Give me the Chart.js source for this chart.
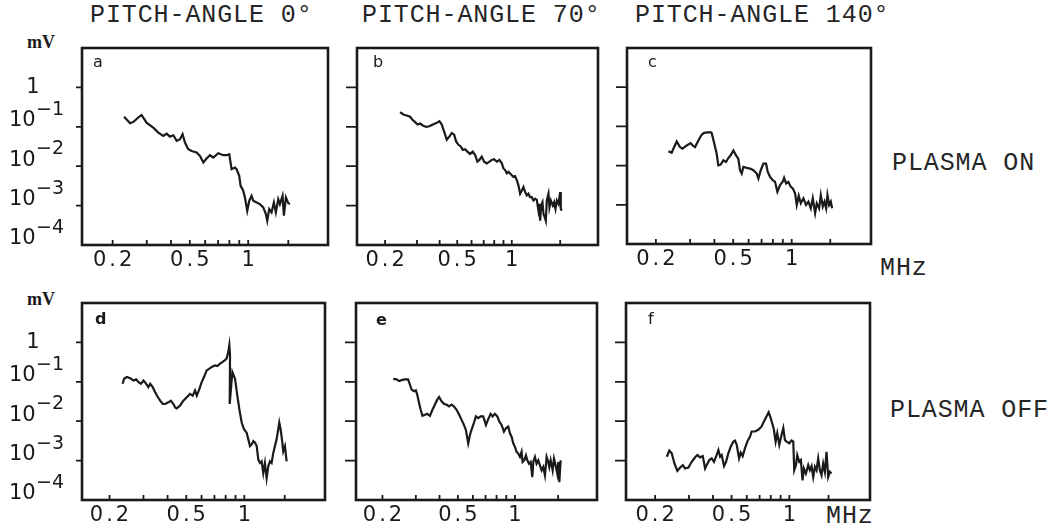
<!DOCTYPE html>
<html>
<head>
<meta charset="utf-8">
<script src="https://cdn.jsdelivr.net/npm/chart.js@4.4.1/dist/chart.umd.min.js"></script>
<style>
  html, body { margin: 0; padding: 0; background: #fff; }
  #page { position: relative; width: 1050px; height: 531px; overflow: hidden; background: #fff; }
  #page canvas { position: absolute; }
  .lbl { position: absolute; white-space: nowrap; line-height: 1; color: #1a1a1a; }
  .mono { font-family: 'Liberation Mono', 'Courier New', monospace; font-size: 25px; letter-spacing: 0.9px; color: #262626; }
  .unit { font-family: 'Liberation Serif', serif; font-weight: bold; font-size: 18px; }
  .tag { font-family: 'DejaVu Sans', sans-serif; font-size: 16px; }
</style>
</head>
<body>
<div id="page">
  <div class="lbl mono" style="left:90px;top:3px">PITCH-ANGLE 0°</div>
  <div class="lbl mono" style="left:362px;top:3px">PITCH-ANGLE 70°</div>
  <div class="lbl mono" style="left:635px;top:3px">PITCH-ANGLE 140°</div>
  <div class="lbl mono" style="left:892px;top:151px">PLASMA ON</div>
  <div class="lbl mono" style="left:890px;top:398px">PLASMA OFF</div>
  <div class="lbl mono" style="left:880px;top:256px">MHz</div>
  <div class="lbl mono" style="left:826px;top:504px">MHz</div>
  <div class="lbl unit" style="left:27px;top:33px">mV</div>
  <div class="lbl unit" style="left:27px;top:290px">mV</div>
</div>
<script>
// Tick sets (frequency in MHz, amplitude in mV)
const xTickValues = [0.2, 0.3, 0.4, 0.5, 0.6, 0.7, 0.8, 0.9, 1]
const xLabelValues = [0.2, 0.5, 1]
const xLabelTexts = ['0.2', '0.5', '1']
const yTickValues = [1, 0.1, 0.01, 0.001]
const yLabelValues = [1, 0.1, 0.01, 0.001, 0.0001]
const yLabelExps = [null, '−1', '−2', '−3', '−4']
const panelTags = ['a', 'b', 'c', 'd', 'e', 'f']

// a: plasma on, pitch-angle 0
const freqA = [0.229, 0.246, 0.256, 0.277, 0.282, 0.299, 0.324, 0.344, 0.365, 0.380, 0.395, 0.411, 0.428, 0.445, 0.459, 0.472, 0.491, 0.511, 0.542, 0.564, 0.587, 0.610, 0.635, 0.661, 0.701, 0.744, 0.774, 0.799, 0.821, 0.854, 0.871, 0.899, 0.914, 0.943, 0.962, 0.989, 1.013, 1.041, 1.062, 1.105, 1.149, 1.196, 1.234, 1.254, 1.284, 1.320, 1.357, 1.389, 1.429, 1.457, 1.504, 1.528, 1.565, 1.609, 1.641]
const valA = [0.181, 0.123, 0.133, 0.188, 0.200, 0.127, 0.0953, 0.0711, 0.0586, 0.0671, 0.0564, 0.0610, 0.0438, 0.0483, 0.0646, 0.0397, 0.0269, 0.0244, 0.0222, 0.0183, 0.0124, 0.0156, 0.0190, 0.0166, 0.0213, 0.0190, 0.0190, 0.0201, 0.00839, 0.00925, 0.00839, 0.00569, 0.00318, 0.00238, 0.00161, 0.00074, 0.00133, 0.00177, 0.00133, 0.00120, 0.00109, 0.000899, 0.000610, 0.000413, 0.000815, 0.000671, 0.00120, 0.000671, 0.00146, 0.00109, 0.00177, 0.000553, 0.00161, 0.00116, 0.00109]

// b: plasma on, pitch-angle 70
const freqB = [0.242, 0.252, 0.263, 0.275, 0.284, 0.293, 0.302, 0.312, 0.323, 0.337, 0.351, 0.367, 0.386, 0.399, 0.411, 0.423, 0.438, 0.453, 0.467, 0.481, 0.493, 0.508, 0.523, 0.537, 0.553, 0.569, 0.589, 0.609, 0.628, 0.646, 0.663, 0.683, 0.704, 0.728, 0.753, 0.776, 0.799, 0.827, 0.855, 0.881, 0.900, 0.919, 0.939, 0.959, 0.979, 1.000, 1.021, 1.043, 1.066, 1.088, 1.112, 1.136, 1.160, 1.185, 1.210, 1.236, 1.262, 1.289, 1.317, 1.345, 1.374, 1.403, 1.421, 1.434, 1.452, 1.477, 1.496, 1.521, 1.541, 1.560, 1.594, 1.614, 1.642, 1.684, 1.713, 1.742, 1.772, 1.810, 1.849, 1.864, 1.888]
const valB = [0.237, 0.206, 0.194, 0.180, 0.148, 0.131, 0.114, 0.121, 0.108, 0.0994, 0.103, 0.114, 0.126, 0.139, 0.114, 0.0769, 0.0470, 0.0572, 0.0697, 0.0632, 0.0426, 0.0349, 0.0317, 0.0260, 0.0270, 0.0235, 0.0205, 0.0235, 0.0193, 0.0130, 0.0144, 0.0175, 0.0130, 0.0118, 0.0130, 0.0144, 0.0150, 0.0130, 0.0144, 0.0118, 0.00878, 0.00796, 0.00653, 0.00721, 0.00653, 0.00592, 0.00536, 0.00558, 0.00440, 0.00327, 0.00200, 0.00243, 0.00297, 0.00221, 0.00181, 0.00200, 0.00164, 0.00164, 0.00135, 0.00149, 0.00140, 0.000746, 0.00111, 0.000412, 0.00100, 0.00122, 0.000612, 0.000502, 0.000412, 0.00135, 0.00200, 0.000908, 0.00135, 0.00100, 0.00122, 0.000823, 0.00135, 0.00111, 0.00221, 0.000823, 0.000746]

// c: plasma on, pitch-angle 140
const freqC = [0.232, 0.241, 0.246, 0.256, 0.266, 0.274, 0.288, 0.302, 0.309, 0.318, 0.331, 0.344, 0.354, 0.380, 0.387, 0.398, 0.411, 0.419, 0.431, 0.445, 0.459, 0.472, 0.485, 0.501, 0.517, 0.531, 0.542, 0.553, 0.564, 0.587, 0.610, 0.635, 0.661, 0.674, 0.693, 0.715, 0.738, 0.753, 0.774, 0.799, 0.821, 0.844, 0.871, 0.899, 0.914, 0.936, 0.962, 0.989, 1.013, 1.041, 1.062, 1.087, 1.114, 1.149, 1.186, 1.220, 1.254, 1.284, 1.320, 1.346, 1.384, 1.412, 1.446, 1.475, 1.504, 1.528, 1.559, 1.590, 1.615]
const valC = [0.0231, 0.0213, 0.0269, 0.0413, 0.0297, 0.0269, 0.0327, 0.0375, 0.0327, 0.0297, 0.0438, 0.0610, 0.0685, 0.0711, 0.0685, 0.0397, 0.0201, 0.0102, 0.0106, 0.0136, 0.0124, 0.0156, 0.0183, 0.0244, 0.0183, 0.0150, 0.00762, 0.00627, 0.00925, 0.00873, 0.00839, 0.00762, 0.00627, 0.00469, 0.00762, 0.0112, 0.0112, 0.00692, 0.00517, 0.00425, 0.00386, 0.00215, 0.00318, 0.00386, 0.00488, 0.00350, 0.00386, 0.00288, 0.00262, 0.00195, 0.000990, 0.00171, 0.00109, 0.00146, 0.000990, 0.00120, 0.000815, 0.00146, 0.000610, 0.00109, 0.000815, 0.00177, 0.000899, 0.00120, 0.000815, 0.00177, 0.000990, 0.00120, 0.000815]

// d: plasma off, pitch-angle 0
const freqD = [0.234, 0.238, 0.246, 0.256, 0.266, 0.275, 0.283, 0.291, 0.300, 0.310, 0.318, 0.325, 0.335, 0.345, 0.354, 0.366, 0.378, 0.388, 0.404, 0.416, 0.429, 0.438, 0.446, 0.464, 0.483, 0.503, 0.523, 0.540, 0.555, 0.567, 0.585, 0.601, 0.618, 0.638, 0.659, 0.678, 0.705, 0.725, 0.748, 0.772, 0.794, 0.810, 0.826, 0.836, 0.843, 0.840, 0.867, 0.895, 0.920, 0.942, 0.969, 0.996, 1.028, 1.049, 1.070, 1.092, 1.114, 1.136, 1.159, 1.182, 1.206, 1.230, 1.254, 1.279, 1.305, 1.331, 1.358, 1.385, 1.413, 1.441, 1.470, 1.518, 1.542, 1.567, 1.592, 1.624, 1.657]
const valD = [0.0889, 0.119, 0.132, 0.124, 0.108, 0.115, 0.0981, 0.0889, 0.108, 0.0889, 0.0730, 0.0889, 0.0730, 0.0543, 0.0429, 0.0332, 0.0273, 0.0273, 0.0301, 0.0332, 0.0273, 0.0224, 0.0211, 0.0247, 0.0332, 0.0404, 0.0492, 0.0446, 0.0600, 0.0446, 0.0662, 0.0981, 0.132, 0.195, 0.215, 0.238, 0.262, 0.252, 0.289, 0.319, 0.352, 0.389, 0.576, 0.854, 0.473, 0.0273, 0.177, 0.119, 0.0446, 0.0203, 0.00924, 0.00624, 0.00512, 0.00346, 0.00233, 0.00257, 0.00313, 0.00284, 0.00233, 0.00106, 0.000871, 0.000961, 0.000483, 0.000871, 0.000359, 0.000716, 0.000961, 0.000871, 0.00157, 0.00233, 0.00346, 0.00924, 0.00624, 0.00346, 0.00173, 0.00233, 0.000961]

// e: plasma off, pitch-angle 70
const freqE = [0.228, 0.237, 0.245, 0.252, 0.262, 0.273, 0.279, 0.285, 0.293, 0.300, 0.305, 0.312, 0.318, 0.325, 0.335, 0.344, 0.356, 0.367, 0.378, 0.389, 0.398, 0.410, 0.422, 0.436, 0.450, 0.463, 0.476, 0.492, 0.508, 0.523, 0.538, 0.551, 0.567, 0.579, 0.590, 0.607, 0.622, 0.640, 0.659, 0.680, 0.703, 0.723, 0.744, 0.762, 0.784, 0.807, 0.827, 0.850, 0.875, 0.896, 0.922, 0.941, 0.960, 0.980, 1.000, 1.020, 1.041, 1.063, 1.084, 1.098, 1.120, 1.143, 1.162, 1.186, 1.210, 1.235, 1.250, 1.275, 1.301, 1.328, 1.355, 1.383, 1.411, 1.440, 1.470, 1.500, 1.518, 1.543, 1.581, 1.607, 1.646, 1.673, 1.694, 1.715, 1.742]
const valE = [0.119, 0.115, 0.104, 0.110, 0.115, 0.115, 0.0854, 0.0636, 0.0576, 0.0611, 0.0473, 0.0289, 0.0195, 0.0137, 0.0145, 0.0154, 0.0137, 0.0195, 0.0262, 0.0352, 0.0412, 0.0319, 0.0278, 0.0262, 0.0238, 0.0262, 0.0238, 0.0195, 0.0145, 0.0108, 0.00805, 0.00600, 0.00273, 0.00446, 0.00600, 0.00889, 0.0132, 0.0119, 0.0132, 0.0132, 0.00805, 0.0113, 0.0154, 0.0132, 0.0154, 0.0132, 0.00981, 0.00805, 0.00543, 0.00661, 0.00730, 0.00492, 0.00404, 0.00273, 0.00224, 0.00167, 0.00151, 0.00124, 0.00167, 0.000924, 0.00102, 0.00137, 0.00102, 0.000838, 0.000924, 0.000381, 0.000924, 0.00124, 0.000838, 0.00102, 0.000759, 0.000565, 0.000688, 0.000421, 0.00124, 0.000924, 0.000688, 0.00102, 0.000565, 0.00112, 0.000688, 0.000464, 0.000924, 0.000284, 0.00102]

// f: plasma off, pitch-angle 140
const freqF = [0.230, 0.237, 0.244, 0.252, 0.261, 0.270, 0.279, 0.286, 0.298, 0.310, 0.323, 0.332, 0.343, 0.354, 0.364, 0.371, 0.383, 0.394, 0.405, 0.418, 0.427, 0.436, 0.444, 0.457, 0.468, 0.481, 0.495, 0.511, 0.521, 0.532, 0.547, 0.558, 0.571, 0.587, 0.604, 0.624, 0.636, 0.662, 0.689, 0.717, 0.737, 0.761, 0.780, 0.799, 0.818, 0.831, 0.848, 0.865, 0.886, 0.911, 0.930, 0.948, 0.967, 0.999, 1.027, 1.048, 1.060, 1.082, 1.099, 1.126, 1.148, 1.171, 1.190, 1.219, 1.254, 1.279, 1.305, 1.331, 1.358, 1.385, 1.413, 1.442, 1.471, 1.500, 1.531, 1.561, 1.593, 1.625, 1.658]
const valF = [0.00125, 0.00179, 0.00153, 0.000846, 0.000549, 0.000668, 0.000767, 0.000630, 0.000668, 0.000933, 0.00121, 0.00138, 0.00121, 0.00130, 0.000630, 0.000767, 0.00103, 0.00114, 0.000933, 0.00138, 0.00186, 0.00125, 0.00138, 0.000723, 0.000933, 0.00153, 0.00226, 0.00304, 0.00323, 0.00250, 0.00114, 0.00159, 0.00130, 0.00205, 0.00304, 0.00408, 0.00548, 0.00548, 0.00605, 0.00738, 0.00990, 0.0133, 0.0168, 0.0121, 0.00813, 0.00605, 0.00304, 0.00497, 0.00250, 0.00451, 0.00668, 0.00335, 0.00304, 0.00275, 0.00323, 0.00304, 0.000571, 0.000767, 0.00138, 0.000933, 0.00103, 0.000316, 0.000630, 0.000469, 0.000767, 0.000571, 0.000723, 0.000385, 0.000695, 0.000571, 0.00114, 0.000571, 0.000425, 0.000846, 0.000518, 0.00168, 0.000385, 0.000518, 0.000469]

// hand-drawn axes differ slightly between panels
const xMins = [0.139, 0.140, 0.142, 0.144, 0.145, 0.141]
const xMaxs = [2.58, 2.99, 2.56, 2.62, 2.71, 2.63]
const endTicks = [1.61, 1.85, 1.58, 1.62, 1.69, 1.60]
const yMin = 1e-4
const yMax = 10

const INK = '#1a1a1a'
const PAD = { left: 80, top: 12, right: 12, bottom: 32 }
// plot frames on the page: left, top, right, bottom
const boxes = [
  [82, 48, 328, 245], [357, 48, 598, 245], [627, 48, 871, 244],
  [82, 303, 325, 500], [356, 303, 597, 500], [626, 303, 870, 500]
]
const tagOffsets = [[11, 6], [16, 6], [21, 6], [13, 8], [20, 9], [22, 8]]

const freqs = [freqA, freqB, freqC, freqD, freqE, freqF]
const vals = [valA, valB, valC, valD, valE, valF]

const framePlugin = {
  id: 'frame',
  afterDraw(chart, args, opts) {
    const { ctx, chartArea: a } = chart
    const x = chart.scales.x
    const y = chart.scales.y
    ctx.save()
    ctx.strokeStyle = INK
    ctx.fillStyle = INK
    ctx.lineWidth = 2.6
    ctx.strokeRect(a.left, a.top, a.right - a.left, a.bottom - a.top)

    ctx.lineWidth = 1.8
    ctx.beginPath()
    for (const v of [...xTickValues, opts.endTick]) {
      const px = x.getPixelForValue(v)
      ctx.moveTo(px, a.bottom)
      ctx.lineTo(px, a.bottom - 5)
    }
    for (const v of yTickValues) {
      const py = y.getPixelForValue(v)
      ctx.moveTo(a.left - opts.yTickLen, py)
      ctx.lineTo(a.left, py)
    }
    ctx.stroke()

    ctx.textBaseline = 'middle'
    ctx.textAlign = 'center'
    ctx.font = '21px "DejaVu Sans"'
    ctx.letterSpacing = '3px'
    xLabelValues.forEach((v, i) => {
      ctx.fillText(xLabelTexts[i], x.getPixelForValue(v) + 1.5, a.bottom + 16)
    })
    ctx.letterSpacing = '0px'

    if (opts.yLabels) {
      yLabelValues.forEach((v, i) => {
        const py = y.getPixelForValue(v)
        if (!yLabelExps[i]) {
          ctx.textAlign = 'center'
          ctx.font = '21px "DejaVu Sans"'
          ctx.fillText('1', a.left - 49, py)
          return
        }
        ctx.textAlign = 'left'
        ctx.font = '21px "DejaVu Sans"'
        ctx.fillText('10', a.left - 73, py - 6)
        ctx.font = '19px "DejaVu Sans"'
        ctx.fillText(yLabelExps[i], a.left - 46, py - 17)
      })
    }
    ctx.restore()
  }
}

const page = document.getElementById('page')

boxes.forEach((b, i) => {
  const [L, T, R, B] = b
  const canvas = document.createElement('canvas')
  canvas.width = R - L + PAD.left + PAD.right
  canvas.height = B - T + PAD.top + PAD.bottom
  canvas.style.left = (L - PAD.left) + 'px'
  canvas.style.top = (T - PAD.top) + 'px'
  canvas.style.width = canvas.width + 'px'
  canvas.style.height = canvas.height + 'px'
  page.appendChild(canvas)

  const tag = document.createElement('div')
  tag.className = 'lbl tag'
  tag.textContent = panelTags[i]
  tag.style.left = (L + tagOffsets[i][0]) + 'px'
  tag.style.top = (T + tagOffsets[i][1]) + 'px'
  if (i >= 3 && i < 5) tag.style.fontWeight = 'bold'
  page.appendChild(tag)

  new Chart(canvas, {
    type: 'line',
    data: {
      datasets: [{
        data: freqs[i].map((f, k) => ({ x: f, y: vals[i][k] })),
        borderColor: INK,
        borderWidth: 2.2,
        pointRadius: 0,
        tension: 0,
        fill: false
      }]
    },
    options: {
      responsive: false,
      animation: false,
      events: [],
      layout: { padding: PAD },
      plugins: {
        legend: { display: false },
        tooltip: { enabled: false },
        frame: { endTick: endTicks[i], yTickLen: i % 3 === 0 ? 6 : 11, yLabels: i % 3 === 0 }
      },
      scales: {
        x: { type: 'logarithmic', min: xMins[i], max: xMaxs[i], display: false },
        y: { type: 'logarithmic', min: yMin, max: yMax, display: false }
      }
    },
    plugins: [framePlugin]
  })
})
</script>
</body>
</html>
